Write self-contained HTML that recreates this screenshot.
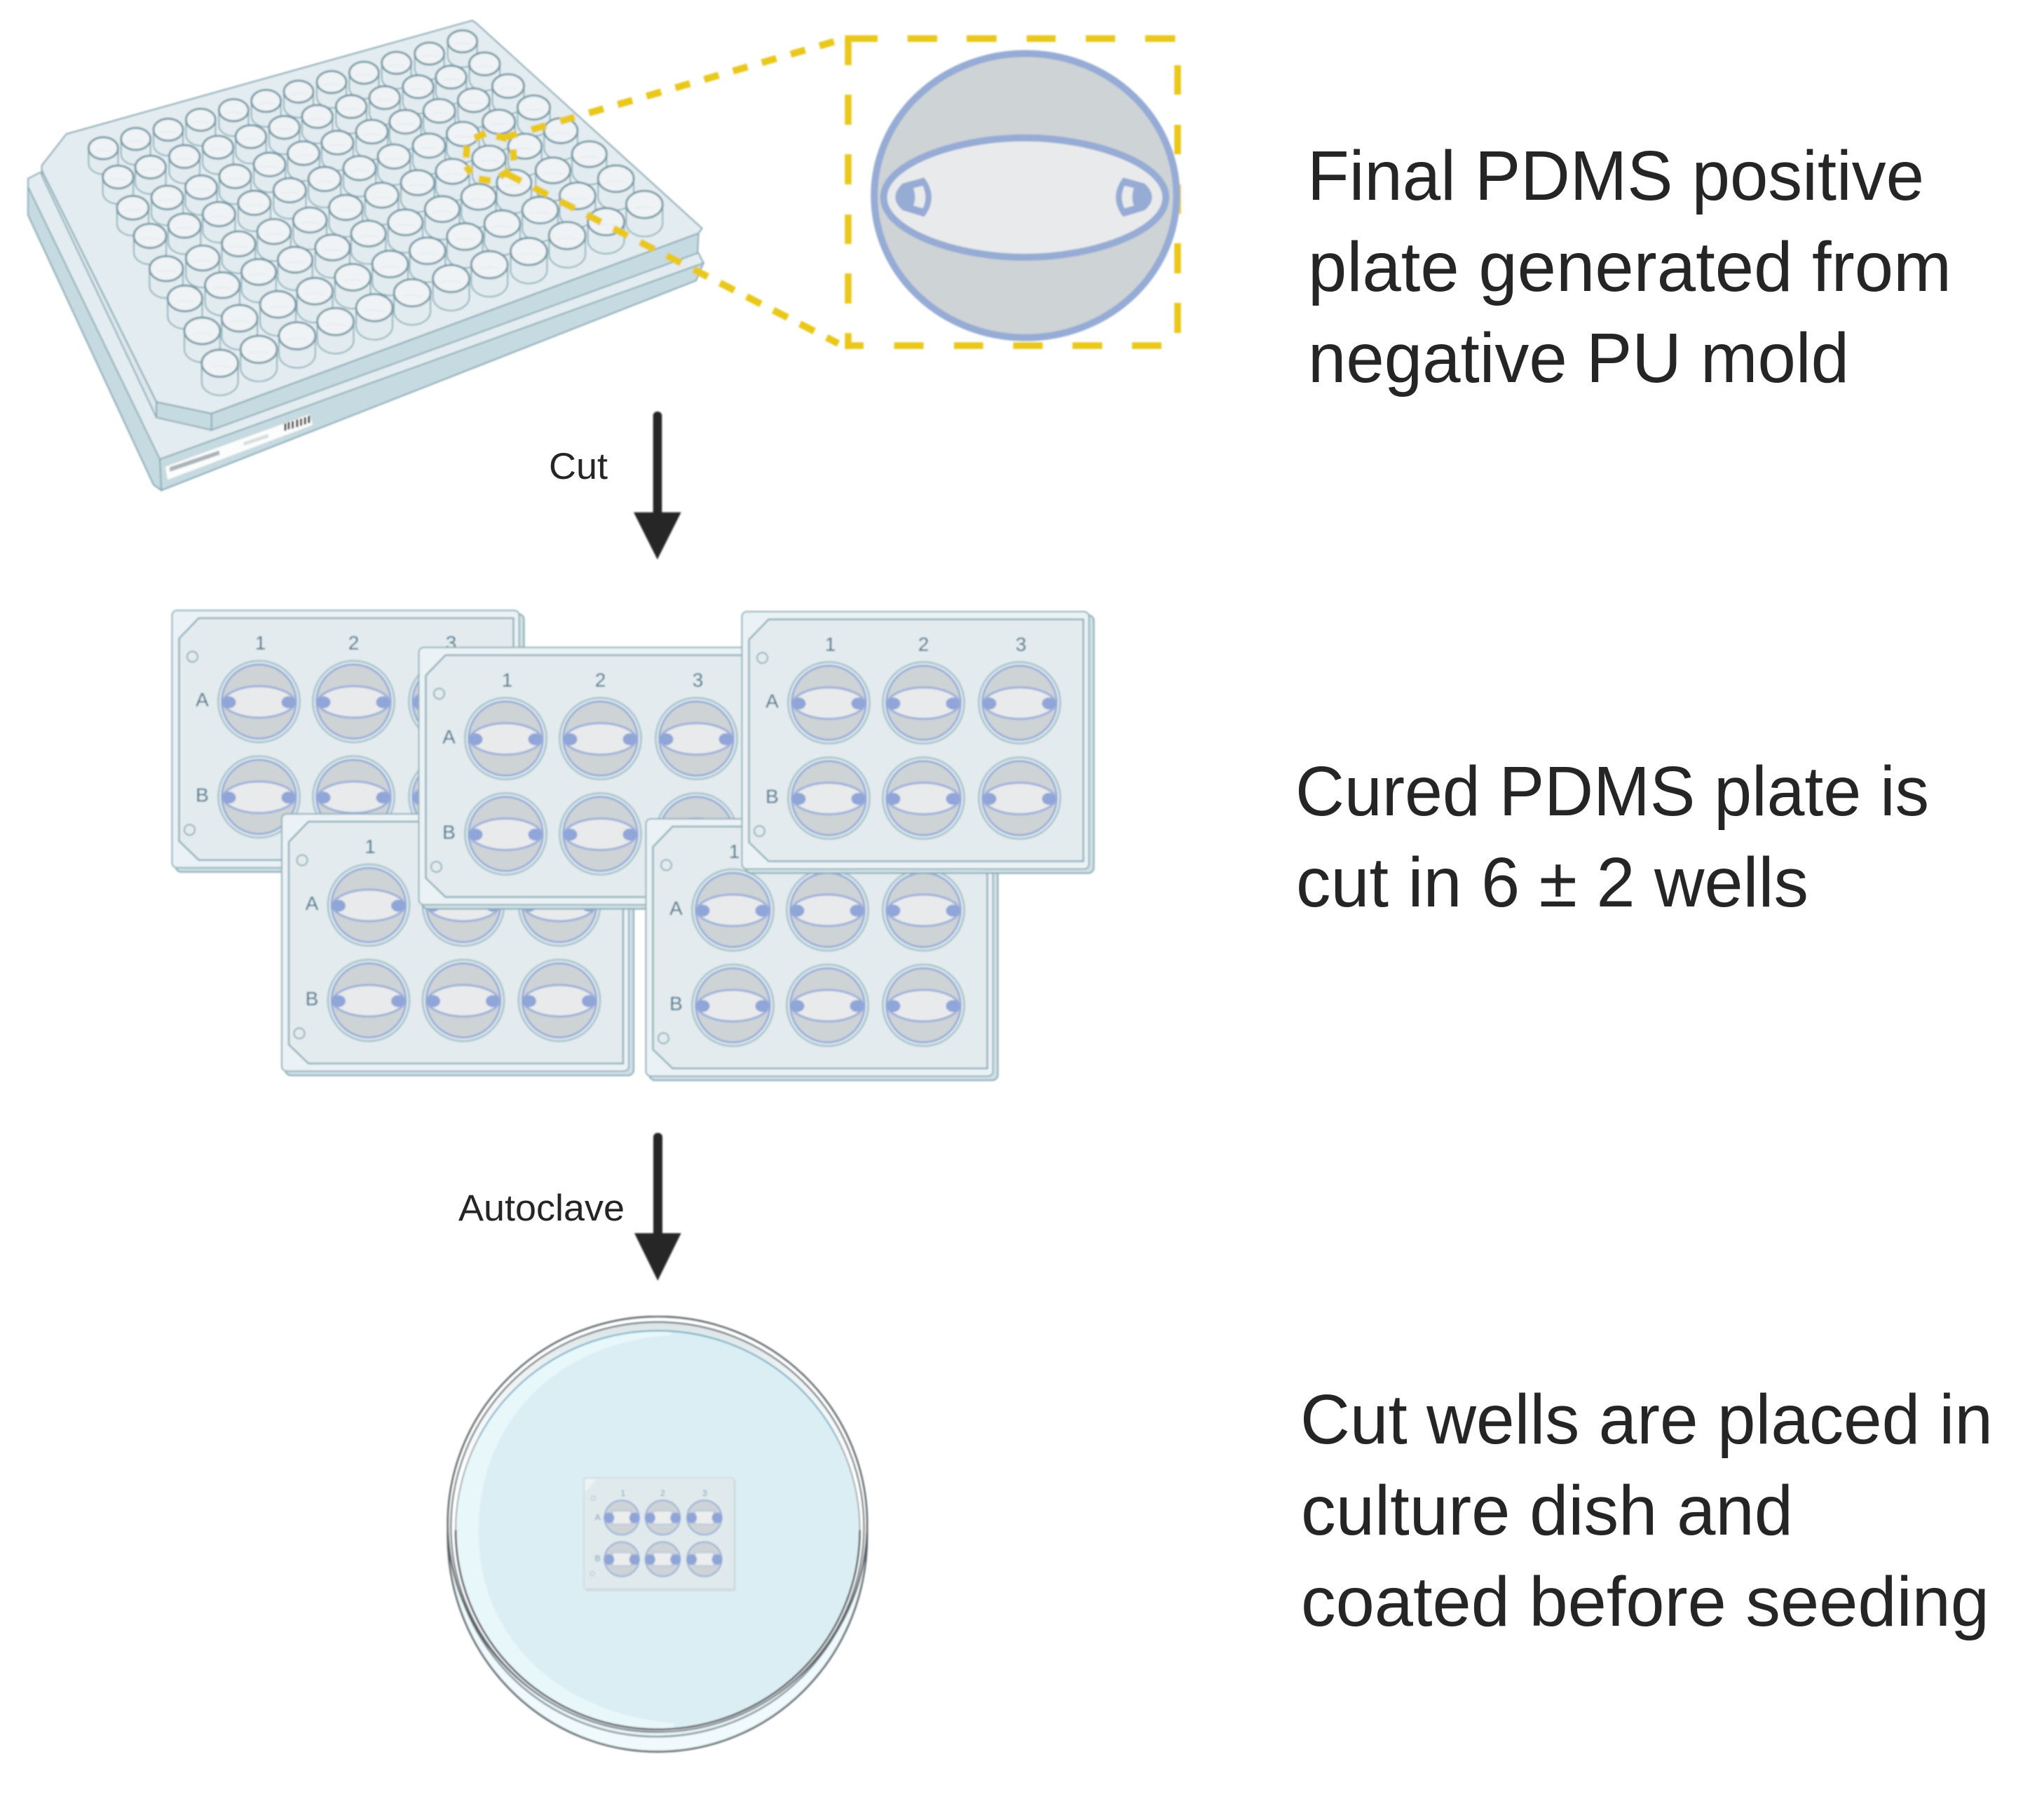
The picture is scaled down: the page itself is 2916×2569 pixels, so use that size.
<!DOCTYPE html>
<html><head><meta charset="utf-8"><style>
html,body{margin:0;padding:0;background:#fff;width:2916px;height:2569px;overflow:hidden}
svg{display:block}
.ns{vector-effect:non-scaling-stroke}
.t{font-family:"Liberation Sans",sans-serif;font-size:100px;fill:#252525}
.s{font-family:"Liberation Sans",sans-serif;font-size:53px;fill:#252525}
.l{font-family:"Liberation Sans",sans-serif;font-size:28px;fill:#3f7289;text-anchor:middle}
.m{font-family:"Liberation Sans",sans-serif;font-size:27px;fill:#6f9aad;text-anchor:middle}
</style></head><body>
<svg xmlns="http://www.w3.org/2000/svg" width="2916" height="2569" viewBox="0 0 2916 2569">
<defs>
<filter id="b" x="-2%" y="-2%" width="104%" height="104%"><feGaussianBlur stdDeviation="1"/></filter>
<linearGradient id="rim" x1="0" y1="0" x2="0" y2="1"><stop offset="0" stop-color="#dbe4e6"/><stop offset=".12" stop-color="#eef2f3"/><stop offset=".4" stop-color="#fff"/><stop offset="1" stop-color="#fff"/></linearGradient>
<g id="w">
<path class="ns" d="M-37,0V56A37,41 0 0 0 37,56V0Z" fill="#e2ebef" stroke="#8aaeb9" stroke-width="1.9"/>
<ellipse class="ns" cx="0" cy="0" rx="37" ry="41" fill="#eff3f5" stroke="#7296a3" stroke-width="2.8"/>
<path class="ns" d="M-20,12Q0,2 20,12" fill="none" stroke="#dfe7ea" stroke-width="1"/>
</g>
<use id="w0" href="#w" transform="scale(.81)"/>
<use id="w1" href="#w" transform="scale(.84)"/>
<use id="w2" href="#w" transform="scale(.87)"/>
<use id="w3" href="#w" transform="scale(.89)"/>
<use id="w4" href="#w" transform="scale(.92)"/>
<use id="w5" href="#w" transform="scale(.95)"/>
<use id="w6" href="#w" transform="scale(.98)"/>
<use id="w7" href="#w"/>
<g id="sw">
<circle r="58" fill="#e3edf0" stroke="#a9c6ce" stroke-width="3"/>
<circle r="55.5" fill="#f1f5f6"/>
<circle r="53" fill="#ced3d6" stroke="#96acd8" stroke-width="3"/>
<path d="M-51,1C-51,-12 -25,-22 0,-22C25,-22 51,-12 51,1C51,13 25,23 0,23C-25,23 -51,13 -51,1Z" fill="#e9eaeb" stroke="#9db0da" stroke-width="3"/>
<ellipse cx="-43" cy="1" rx="10" ry="8.5" fill="#90a6d8"/>
<ellipse cx="42" cy="1" rx="10" ry="8.5" fill="#90a6d8"/>
</g>
<g id="p">
<rect x="5" y="5" width="497" height="368" rx="8" fill="#cfdfe5" stroke="#84a9b4" stroke-width="2"/>
<rect x="0" y="0" width="495" height="367" rx="7" fill="#ebf2f5" stroke="#8fb0ba" stroke-width="2"/>
<path d="M38,11H487V356H38L10,329V40Z" fill="#e3ebef" stroke="#8fb1bb" stroke-width="2.5"/>
<circle cx="29" cy="66" r="7.5" fill="none" stroke="#8fb0ba" stroke-width="2"/>
<circle cx="25" cy="313" r="7.5" fill="none" stroke="#8fb0ba" stroke-width="2"/>
<use href="#sw" x="124" y="130"/><use href="#sw" x="259" y="130"/><use href="#sw" x="396" y="130"/>
<use href="#sw" x="124" y="266"/><use href="#sw" x="259" y="266"/><use href="#sw" x="396" y="266"/>
</g>
<g id="mw">
<circle r="55" fill="#cdd3d6" stroke="#9fb2d8" stroke-width="5"/>
<rect x="-30" y="-21" width="60" height="42" fill="#eceded" stroke="#b3c2e0" stroke-width="3"/>
<circle cx="-41" cy="1" r="17" fill="#8fa5d8"/>
<circle cx="41" cy="1" r="17" fill="#8fa5d8"/>
</g>
</defs>

<g filter="url(#b)">
<!-- 96-well plate -->
<g transform="scale(.7018,.4719)">
<path class="ns" d="M80,522L57,540V650L312,1465L328,1482L1415,848L1418,820L1430,795L1420,765L1000,500Z" fill="#e3ecf0" stroke="#8aabb6" stroke-width="2"/>
<path class="ns" d="M57,565V650L312,1465L328,1482L325,1388Z" fill="#c6dae1" stroke="#8aabb6" stroke-width="2"/>
<path class="ns" d="M325,1388L328,1482L1415,848L1430,795Z" fill="#c6dae1" stroke="#8aabb6" stroke-width="2"/>
<path class="ns" d="M85,515V530L318,1262V1215Z" fill="#dbe7ec" stroke="#8aabb6" stroke-width="2"/>
<path class="ns" d="M430,1250V1300L318,1262V1215Z" fill="#c6dae1" stroke="#8aabb6" stroke-width="2"/>
<path class="ns" d="M1420,705L1418,765L430,1300V1250Z" fill="#c6dae1" stroke="#8aabb6" stroke-width="2"/>
<path class="ns" d="M135,405L960,62L968,70L1427,690L1420,705L430,1250L318,1215L85,515V500Z" fill="#e3ecf0" stroke="#86a8b3" stroke-width="2"/>
<path class="ns" d="M335,1410L630,1250L637,1285L340,1452Z" fill="#fbfcfc" stroke="#c3d3d8" stroke-width="1"/>
<path d="M345,1412L445,1362L447,1374L345,1426Z" fill="#aab4b9"/>
<path d="M495,1337L545,1312L546,1322L496,1347Z" fill="#d7dcde"/>
<path class="ns" d="M580,1280V1302M587,1276V1298M595,1273V1295M604,1268V1291M612,1265V1287M620,1261V1283M628,1257V1279" fill="none" stroke="#222" stroke-width="3"/>
<use href="#w0" x="940" y="125"/><use href="#w0" x="873" y="162"/><use href="#w0" x="806" y="190"/><use href="#w0" x="740" y="220"/><use href="#w0" x="674" y="248"/><use href="#w0" x="607" y="277"/><use href="#w0" x="541" y="305"/><use href="#w0" x="475" y="333"/><use href="#w0" x="408" y="362"/><use href="#w0" x="342" y="392"/><use href="#w0" x="276" y="420"/><use href="#w0" x="210" y="448"/>
<use href="#w1" x="985" y="193"/><use href="#w1" x="917" y="233"/><use href="#w1" x="850" y="262"/><use href="#w1" x="782" y="295"/><use href="#w1" x="714" y="322"/><use href="#w1" x="645" y="352"/><use href="#w1" x="578" y="385"/><use href="#w1" x="510" y="413"/><use href="#w1" x="443" y="445"/><use href="#w1" x="375" y="473"/><use href="#w1" x="306" y="505"/><use href="#w1" x="240" y="535"/>
<use href="#w2" x="1033" y="260"/><use href="#w2" x="963" y="303"/><use href="#w2" x="893" y="335"/><use href="#w2" x="824" y="368"/><use href="#w2" x="756" y="398"/><use href="#w2" x="686" y="431"/><use href="#w2" x="617" y="463"/><use href="#w2" x="548" y="497"/><use href="#w2" x="478" y="533"/><use href="#w2" x="409" y="566"/><use href="#w2" x="340" y="597"/><use href="#w2" x="270" y="628"/>
<use href="#w3" x="1085" y="325"/><use href="#w3" x="1014" y="368"/><use href="#w3" x="941" y="405"/><use href="#w3" x="872" y="440"/><use href="#w3" x="801" y="473"/><use href="#w3" x="731" y="508"/><use href="#w3" x="660" y="541"/><use href="#w3" x="589" y="575"/><use href="#w3" x="517" y="613"/><use href="#w3" x="445" y="647"/><use href="#w3" x="375" y="682"/><use href="#w3" x="305" y="713"/>
<use href="#w4" x="1140" y="395"/><use href="#w4" x="1067" y="442"/><use href="#w4" x="994" y="478"/><use href="#w4" x="920" y="518"/><use href="#w4" x="849" y="552"/><use href="#w4" x="776" y="590"/><use href="#w4" x="703" y="627"/><use href="#w4" x="630" y="665"/><use href="#w4" x="557" y="700"/><use href="#w4" x="485" y="737"/><use href="#w4" x="412" y="780"/><use href="#w4" x="338" y="812"/>
<use href="#w5" x="1198" y="466"/><use href="#w5" x="1124" y="515"/><use href="#w5" x="1045" y="552"/><use href="#w5" x="973" y="595"/><use href="#w5" x="899" y="632"/><use href="#w5" x="824" y="672"/><use href="#w5" x="749" y="706"/><use href="#w5" x="676" y="748"/><use href="#w5" x="600" y="785"/><use href="#w5" x="526" y="822"/><use href="#w5" x="452" y="862"/><use href="#w5" x="376" y="902"/>
<use href="#w6" x="1252" y="540"/><use href="#w6" x="1174" y="592"/><use href="#w6" x="1098" y="635"/><use href="#w6" x="1021" y="676"/><use href="#w6" x="945" y="715"/><use href="#w6" x="869" y="758"/><use href="#w6" x="793" y="798"/><use href="#w6" x="717" y="838"/><use href="#w6" x="640" y="880"/><use href="#w6" x="565" y="920"/><use href="#w6" x="487" y="962"/><use href="#w6" x="411" y="1000"/>
<use href="#w7" x="1310" y="618"/><use href="#w7" x="1232" y="670"/><use href="#w7" x="1153" y="712"/><use href="#w7" x="1075" y="760"/><use href="#w7" x="995" y="800"/><use href="#w7" x="917" y="842"/><use href="#w7" x="838" y="885"/><use href="#w7" x="761" y="930"/><use href="#w7" x="682" y="972"/><use href="#w7" x="604" y="1015"/><use href="#w7" x="526" y="1056"/><use href="#w7" x="447" y="1098"/>
</g>

<!-- yellow dashed callouts -->
<g fill="none" stroke="#e9c81d" stroke-width="10">
<path d="M677,197L693,190M708,194L723,198M666,208L665,225M665,237L672,247M683,255L700,258M732,213L733,229M713,252L727,243"/>
<path d="M717,197L1205,55" stroke-dasharray="21.5 21.3"/>
<path d="M723,248L1196,490" stroke-dasharray="23 19.7"/>
<g stroke-width="9.5">
<path d="M1205.5,55H1252M1294.7,55H1337M1378.9,55H1421.7M1464.6,55H1506M1549,55H1591M1633.7,55H1676.6"/>
<path d="M1205.5,493H1232M1275.5,493H1317.6M1360.9,493H1402.6M1445.4,493H1487.5M1530,493H1572.5M1615,493H1657"/>
<path d="M1210,55V93M1210,135V178M1210,220V263M1210,306V348M1210,390V433M1210,475V498"/>
<path d="M1680,93V135M1680,178V220M1680,263V305M1680,347V390M1680,432V475"/>
</g>
</g>

<!-- inset well -->
<g transform="translate(1150,20) scale(.3827,.3333)">
<ellipse class="ns" cx="817.5" cy="777" rx="563.5" ry="608" fill="#ced3d6" stroke="#96acd5" stroke-width="10"/>
<path class="ns" d="M289,785C289,640 560,530 815,530C1070,530 1341,640 1341,785C1341,930 1070,1041 815,1041C560,1041 289,930 289,785Z" fill="#e9eaeb" stroke="#96acd5" stroke-width="10"/>
<path d="M360,725L440,700Q495,785 440,868L360,840Q305,785 360,725Z" fill="#96acd5"/>
<path d="M400,745L435,735Q455,785 435,832L400,820Q412,785 400,745Z" fill="#e9eaeb"/>
<path d="M1262,725L1182,700Q1127,785 1182,868L1262,840Q1317,785 1262,725Z" fill="#96acd5"/>
<path d="M1222,745L1187,735Q1167,785 1187,832L1222,820Q1210,785 1222,745Z" fill="#e9eaeb"/>
</g>

<!-- 6-well plates -->
<g transform="translate(245.5,870.7)"><use href="#p"/><text class="l" x="126" y="56">1</text><text class="l" x="259" y="56">2</text><text class="l" x="398" y="56">3</text><text class="l" x="43" y="137">A</text><text class="l" x="43" y="273">B</text></g>
<g transform="translate(402,1161)"><use href="#p"/><text class="l" x="126" y="56">1</text><text class="l" x="259" y="56">2</text><text class="l" x="398" y="56">3</text><text class="l" x="43" y="137">A</text><text class="l" x="43" y="273">B</text></g>
<g transform="translate(597.5,923.5)"><use href="#p"/><text class="l" x="126" y="56">1</text><text class="l" x="259" y="56">2</text><text class="l" x="398" y="56">3</text><text class="l" x="43" y="137">A</text><text class="l" x="43" y="273">B</text></g>
<g transform="translate(921.5,1168)"><use href="#p"/><text class="l" x="126" y="56">1</text><text class="l" x="259" y="56">2</text><text class="l" x="398" y="56">3</text><text class="l" x="43" y="137">A</text><text class="l" x="43" y="273">B</text></g>
<g transform="translate(1058.5,872.5)"><use href="#p"/><text class="l" x="126" y="56">1</text><text class="l" x="259" y="56">2</text><text class="l" x="398" y="56">3</text><text class="l" x="43" y="137">A</text><text class="l" x="43" y="273">B</text></g>

<!-- petri dish -->
<g transform="translate(600,1850) scale(.4464)">
<ellipse cx="757" cy="765" rx="670" ry="688" fill="#f0f9fb" stroke="#59636a" stroke-width="6"/>
<ellipse cx="755" cy="745" rx="660" ry="660" fill="#e6f4f7" stroke="#77838a" stroke-width="5"/>
<ellipse cx="757" cy="725" rx="670" ry="662" fill="#fff" stroke="#555e63" stroke-width="6"/>
<ellipse cx="757" cy="735" rx="660" ry="655" fill="url(#rim)" stroke="#5f696e" stroke-width="5"/>
<ellipse cx="758" cy="745" rx="646" ry="637" fill="#dbeef3"/>
<path d="M800,122C400,150 185,430 185,750C185,1080 430,1330 810,1362L810,1380A646,637 0 0 1 114,745A646,637 0 0 1 800,110Z" fill="#e8f7fa"/>
<ellipse cx="758" cy="745" rx="646" ry="637" fill="none" stroke="#6a757a" stroke-width="3"/>
<path d="M185.4,450A646,637 0 0 1 1330.6,450" fill="none" stroke="#4ba3c3" stroke-width="4"/>
<path d="M112,745A646,637 0 0 0 1404,745" fill="none" stroke="#454e54" stroke-width="6"/>
<rect x="527" y="583" width="480" height="357" rx="6" fill="#cfdde2"/>
<rect x="522" y="578" width="480" height="355" rx="6" fill="#e0eaed" stroke="#c8d6dc" stroke-width="3"/>
<path d="M525,582H562L525,625Z" fill="#eef3f4"/>
<circle cx="552" cy="643" r="7" fill="none" stroke="#b9cbd1" stroke-width="3"/>
<circle cx="548" cy="884" r="7" fill="none" stroke="#b9cbd1" stroke-width="3"/>
<use href="#mw" x="643" y="705"/><use href="#mw" x="774" y="705"/><use href="#mw" x="907" y="705"/>
<use href="#mw" x="643" y="838"/><use href="#mw" x="774" y="838"/><use href="#mw" x="907" y="838"/>
<text class="m" x="647" y="636">1</text><text class="m" x="774" y="636">2</text><text class="m" x="908" y="636">3</text>
<text class="m" x="566" y="713">A</text><text class="m" x="566" y="844">B</text>
</g>

<!-- arrows -->
<g fill="#252525">
<rect x="931.7" y="587" width="12.6" height="150" rx="6"/>
<path d="M904,730.7H971.7L937.8,798Z"/>
<rect x="932" y="1616" width="13" height="150" rx="6"/>
<path d="M905,1759H971.7L938.3,1826.7Z"/>
</g>
</g>

<text class="s" x="783" y="683" textLength="84" lengthAdjust="spacingAndGlyphs">Cut</text>
<text class="s" x="654" y="1741" textLength="237" lengthAdjust="spacingAndGlyphs">Autoclave</text>

<text class="t" x="1865" y="285" textLength="880" lengthAdjust="spacingAndGlyphs">Final PDMS positive</text>
<text class="t" x="1866" y="415" textLength="918" lengthAdjust="spacingAndGlyphs">plate generated from</text>
<text class="t" x="1866" y="545" textLength="772" lengthAdjust="spacingAndGlyphs">negative PU mold</text>

<text class="t" x="1848" y="1163" textLength="904" lengthAdjust="spacingAndGlyphs">Cured PDMS plate is</text>
<text class="t" x="1849" y="1293" textLength="731" lengthAdjust="spacingAndGlyphs">cut in 6 ± 2 wells</text>

<text class="t" x="1855" y="2059" textLength="988" lengthAdjust="spacingAndGlyphs">Cut wells are placed in</text>
<text class="t" x="1856" y="2189" textLength="702" lengthAdjust="spacingAndGlyphs">culture dish and</text>
<text class="t" x="1856" y="2319" textLength="982" lengthAdjust="spacingAndGlyphs">coated before seeding</text>
</svg>
</body></html>
